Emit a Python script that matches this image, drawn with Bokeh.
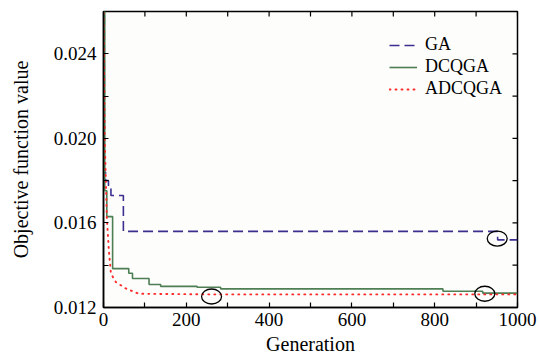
import math
from bokeh.plotting import figure
from bokeh.models import Range1d, FixedTicker, Legend, LegendItem
from bokeh.embed import file_html
from bokeh.resources import INLINE

# GA (step)
ga_x = [0, 2, 5, 12, 18, 48, 952, 1000]
ga_y = [0.0265, 0.0184, 0.0180, 0.0177, 0.0173, 0.0156, 0.0152, 0.0152]
# DCQGA (step)
dc_x = [0, 3, 8, 22, 61, 70, 110, 138, 226, 283, 820, 916, 1000]
dc_y = [0.0265, 0.01752, 0.0163, 0.01384, 0.01362, 0.01337, 0.01309, 0.0130,
        0.01296, 0.01288, 0.01277, 0.01268, 0.01268]
# ADCQGA (curve)
ad_x = [0, 3, 8, 13, 18, 30, 54, 85, 260, 1000]
ad_y = [0.0265, 0.0200, 0.01625, 0.0147, 0.0136, 0.0132, 0.0129, 0.01265, 0.01262, 0.01262]
# highlighted points
mark_x = [951, 921, 261]
mark_y = [0.01526, 0.01265, 0.01252]

x_major = [0, 200, 400, 600, 800, 1000]
x_minor = [100, 300, 500, 700, 900]
y_major = [0.012, 0.016, 0.020, 0.024]
y_minor = [0.014, 0.018, 0.022]
X_MIN, X_MAX = 0, 1000
Y_MIN, Y_MAX = 0.012, 0.026

FONT = "Liberation Serif"

p = figure(width=539, height=363, output_backend="svg", toolbar_location=None,
           x_range=Range1d(X_MIN, X_MAX), y_range=Range1d(Y_MIN, Y_MAX),
           min_border_left=103, min_border_right=22, min_border_top=11, min_border_bottom=56)
p.background_fill_color = "#fdfdfb"
p.border_fill_color = "white"
p.outline_line_color = "black"
p.outline_line_width = 1.5
p.grid.visible = False

p.xaxis.ticker = FixedTicker(ticks=x_major, minor_ticks=x_minor)
p.yaxis.ticker = FixedTicker(ticks=y_major, minor_ticks=y_minor)
for ax in (p.xaxis[0], p.yaxis[0]):
    ax.axis_line_color = "black"
    ax.axis_line_width = 1.5
    ax.major_tick_in = 5
    ax.major_tick_out = 0
    ax.minor_tick_in = 5
    ax.minor_tick_out = 0
    ax.major_tick_line_color = "black"
    ax.minor_tick_line_color = "black"
    ax.major_tick_line_width = 1.2
    ax.minor_tick_line_width = 1.2
    ax.major_label_text_font = FONT
    ax.major_label_text_font_size = "19px"
    ax.major_label_text_color = "black"
    ax.axis_label_text_font = FONT
    ax.axis_label_text_font_size = "20px"
    ax.axis_label_text_font_style = "normal"
    ax.axis_label_text_color = "black"

p.xaxis.axis_label = "Generation"
p.yaxis.axis_label = "Objective function value"
p.xaxis.major_label_standoff = 5
p.yaxis.major_label_standoff = 7
p.xaxis.axis_label_standoff = 4
p.yaxis.axis_label_standoff = 19
p.yaxis.major_label_overrides = {v: f"{v:.3f}" for v in y_major}

# inward ticks on top and right edges of the box
tick_len = 5
p.ray(x=x_major + x_minor, y=[Y_MAX] * (len(x_major) + len(x_minor)), length=tick_len,
      length_units="screen", angle=-math.pi / 2, line_color="black", line_width=1.2)
p.ray(x=[X_MAX] * (len(y_major) + len(y_minor)), y=y_major + y_minor, length=tick_len,
      length_units="screen", angle=math.pi, line_color="black", line_width=1.2)

r_ga = p.step(ga_x, ga_y, mode="after", line_color="#3b2f8f", line_width=1.6, line_dash="10 5")
r_dc = p.step(dc_x, dc_y, mode="after", line_color="#4e7e54", line_width=1.6)
r_ad = p.line(ad_x, ad_y, line_color="#ff2a2a", line_width=1.9, line_dash="1 5", line_cap="round")

p.ellipse(x=mark_x, y=mark_y, width=20, height=15, width_units="screen", height_units="screen",
          fill_color=None, line_color="black", line_width=1.3)

legend = Legend(items=[LegendItem(label="GA", renderers=[r_ga]),
                       LegendItem(label="DCQGA", renderers=[r_dc]),
                       LegendItem(label="ADCQGA", renderers=[r_ad])],
                location=(282, 204))
legend.background_fill_alpha = 0
legend.border_line_alpha = 0
legend.label_text_font = FONT
legend.label_text_font_size = "18px"
legend.label_text_color = "black"
legend.glyph_width = 28
legend.glyph_height = 18
legend.label_height = 18
legend.spacing = 1
legend.padding = 4
legend.margin = 0
legend.label_standoff = 8
p.add_layout(legend, "center")

open("out.html", "w").write(file_html(p, INLINE))
